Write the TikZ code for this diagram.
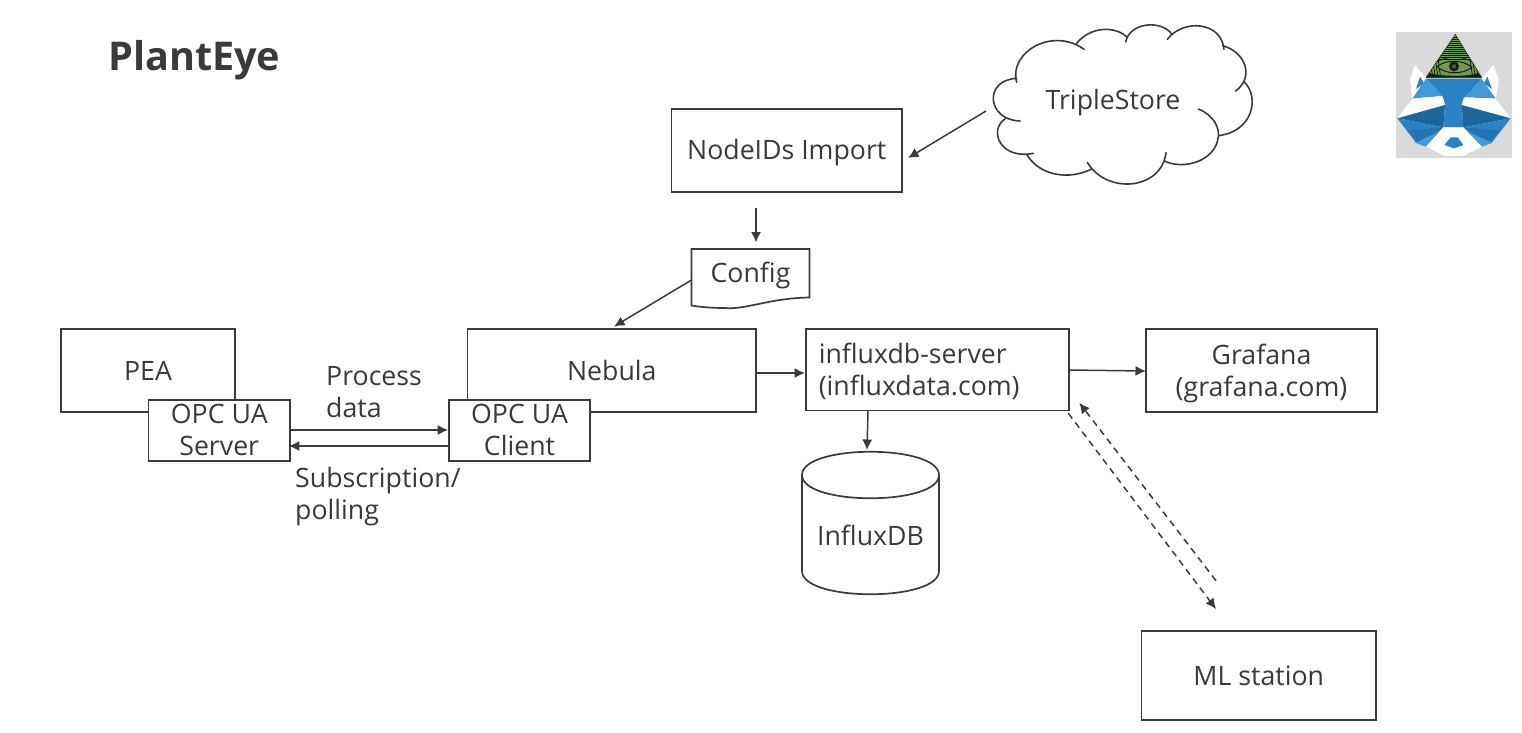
\documentclass[tikz,border=0pt]{standalone}
\usepackage{fontspec}
\setmainfont{Open Sans}
\usetikzlibrary{arrows.meta}
\definecolor{ink}{HTML}{3B3B37}
\definecolor{lbl}{HTML}{3A3A36}
\definecolor{lgray}{HTML}{DADADA}
\definecolor{rblue}{HTML}{2A82C3}
\definecolor{rdark}{HTML}{1C669B}
\definecolor{rmid}{HTML}{2273AE}
\definecolor{rlight}{HTML}{4AA3DE}
\definecolor{pgreen}{HTML}{6E9A58}
\definecolor{pdark}{HTML}{16200F}
\tikzset{
  txt/.style={font=\fontsize{26.7}{32}\selectfont, text=lbl, inner sep=0pt, align=center},
  boxn/.style={draw=ink, line width=1.7pt, fill=white, txt, anchor=center},
  ghost/.style={txt},
  arr/.style={draw=ink, line width=1.5pt, -{Latex[length=10.5pt,width=10pt]}},
  darr/.style={arr, dash pattern=on 6.5pt off 5pt},
  outl/.style={draw=ink, line width=1.7pt, line cap=round},
}
\newcommand{\bx}[7]{% name, x0, y0, x1, y1, text, extra
  \node[boxn,#7,minimum width={(#4-#2)*1pt},minimum height={(#5-#3)*1pt}] (#1) at ({(#2+#4)/2},{(#3+#5)/2}) {#6};}
\begin{document}
\begin{tikzpicture}[x=1pt,y=-1pt]
\useasboundingbox (0,0) rectangle (1522,732);
\fill[white] (0,0) rectangle (1522,732);

\node[font=\fontsize{39.6}{44}\selectfont\bfseries, text=lbl, inner sep=0pt, anchor=base west] (title) at (108,70) {PlantEye};

% boxes
\bx{pea}{61}{329}{235}{412}{PEA}{}
\bx{nebula}{467.5}{329}{756}{412}{Nebula}{}
\bx{server}{148.5}{400}{290}{461}{OPC UA\\Server\rule[-2pt]{0pt}{2pt}}{}
\bx{client}{449}{400}{590}{461}{OPC UA\\Client\rule[-2pt]{0pt}{2pt}}{}
\bx{influx}{806}{329}{1069}{410.5}{\hspace*{12.5pt}\parbox{250pt}{\raggedright\vspace*{3pt} influxdb-server\\(influxdata.com)}}{}
\bx{grafana}{1146}{329}{1377}{412}{\rule{0pt}{26pt}Grafana\\(grafana.com)}{}
\bx{mlst}{1141.5}{631}{1376}{720}{ML station}{}
\bx{nodeids}{671.5}{109}{902}{192}{\rule{0pt}{25pt}NodeIDs Import}{}

% cylinder
\path[outl, fill=white] (802,475) -- (802,571) .. controls (802,602) and (939,602) .. (939,571) -- (939,475)
   .. controls (939,444) and (802,444) .. (802,475) -- cycle;
\path[outl] (802,475) .. controls (802,506) and (939,506) .. (939,475);
\node[ghost] (influxdb) at (870.5,535) {InfluxDB};

% document
\path[outl, fill=white] (691.5,249) -- (809.5,249) -- (809.5,297.5)
  .. controls (770,298) and (745,310) .. (725,308) .. controls (712,308) and (700,307) .. (691.5,305.5) -- cycle;
\node[ghost] (config) at (750.5,275) {Config};

% cloud
\begin{scope}[shift={(970,20)},x=0.3333pt,y=-0.3333pt]
\path[fill=white] (140,175) .. controls (130,90) and (240,30) .. (320,70) .. controls (370,15) and (440,25) .. (470,50)
 .. controls (500,5) and (580,10) .. (605,40) .. controls (650,-5) and (755,15) .. (760,77)
 .. controls (825,95) and (850,150) .. (822,185) .. controls (870,230) and (850,335) .. (745,347)
 .. controls (740,420) and (640,455) .. (583,423) .. controls (560,505) and (410,520) .. (352,445)
 .. controls (300,480) and (215,465) .. (170,403) .. controls (90,410) and (60,330) .. (105,297)
 .. controls (50,270) and (60,185) .. (140,175) -- cycle;
\draw[outl, line width=1.6pt]
 (140,187) .. controls (115,95) and (250,20) .. (342,88)
 (320,70) .. controls (365,15) and (440,20) .. (472,52)
 (467,66) .. controls (480,5) and (575,0) .. (605,42)
 (592,58) .. controls (640,-5) and (755,5) .. (762,88)
 (758,77) .. controls (825,95) and (855,170) .. (797,213)
 (822,185) .. controls (870,230) and (850,335) .. (745,347)
 (685,267) .. controls (730,285) and (755,325) .. (742,365) .. controls (725,425) and (640,450) .. (583,423)
 (588,398) .. controls (575,510) and (410,525) .. (352,427)
 (365,447) .. controls (300,480) and (210,470) .. (170,403)
 (190,400) .. controls (90,420) and (55,330) .. (105,297)
 (150,303) .. controls (50,300) and (40,180) .. (140,175);
\end{scope}
\node[ghost] (triple) at (1113,103) {TripleStore};

% labels
\node[txt, align=left, anchor=north west] (pdata) at (326,366) {Process\\data};
\node[txt, align=left, anchor=north west] (subs) at (295,467.5) {Subscription/\\polling};

% connectors
\coordinate (cloudout) at (986,111);
\coordinate (nodein) at (908,158);
\draw[arr] (cloudout) -- (nodein);
\coordinate (n1) at (756,208);
\coordinate (n2) at (756,242.5);
\draw[arr] (n1) -- (n2);
\coordinate (c1) at (691.5,280);
\coordinate (c2) at (614,326.5);
\draw[arr] (c1) -- (c2);
\coordinate (e1) at (756,373);
\coordinate (e1b) at (805,373);
\draw[arr] (e1) -- (e1b);
\coordinate (e2) at (1069,370);
\coordinate (e2b) at (1146,371);
\draw[arr] (e2) -- (e2b);
\coordinate (i1) at (868,410.5);
\coordinate (i2) at (867,450);
\draw[arr] (i1) -- (i2);
\draw[arr] (server.east |- 0,430) -- (client.west |- 0,430);
\draw[arr] (client.west |- 0,446) -- ([xshift=-2pt]server.east |- 0,446);
\coordinate (d1) at (1068.3,413.3);
\coordinate (d2) at (1216,609);
\coordinate (d3) at (1216,580.7);
\coordinate (d4) at (1079.3,402.7);
\draw[darr] (d1) -- (d2);
\draw[darr] (d3) -- (d4);

% logo
\begin{scope}[shift={(1380,20)},x=0.3333pt,y=-0.3333pt]
\fill[lgray] (48,37) rectangle (395,415);
\fill[white] (105,135) -- (90,178) -- (97,238) -- (190,228) -- (140,176) -- cycle;
\fill[white] (340,135) -- (356,178) -- (347,238) -- (252,232) -- (305,176) -- cycle;
\fill[rblue] (120,170) -- (108,207) -- (132,190) -- cycle;
\fill[rblue] (322,170) -- (336,207) -- (312,190) -- cycle;
\fill[rblue] (138,176) -- (305,176) -- (257,230) -- (245,255) -- (195,255) -- (187,228) -- cycle;
\fill[rlight!70!rblue] (138,176) -- (187,228) -- (97,236) -- cycle;
\fill[rlight!70!rblue] (305,176) -- (255,232) -- (347,236) -- cycle;
\fill[white] (97,236) -- (187,228) -- (195,255) -- (52,295) -- cycle;
\fill[white] (347,236) -- (252,232) -- (245,255) -- (392,295) -- cycle;
\fill[rdark] (52,295) -- (195,255) -- (190,322) -- cycle;
\fill[rdark] (392,295) -- (245,255) -- (250,322) -- cycle;
\fill[rblue] (195,255) -- (245,255) -- (250,322) -- (190,322) -- cycle;
\fill[rblue] (52,295) -- (190,322) -- (138,380) -- (108,368) -- cycle;
\fill[rblue] (392,295) -- (250,322) -- (305,380) -- (335,368) -- cycle;
\fill[rmid] (190,322) -- (115,365) -- (80,332) -- cycle;
\fill[rmid] (250,322) -- (325,365) -- (360,332) -- cycle;
\fill[rlight!80!rblue] (175,338) -- (138,380) -- (105,368) -- cycle;
\fill[rlight!80!rblue] (265,338) -- (305,380) -- (338,368) -- cycle;
\fill[white] (190,322) -- (250,322) -- (305,380) -- (250,408) -- (195,408) -- (138,380) -- cycle;
\fill[rblue] (212,352) -- (233,352) -- (250,375) -- (222,385) -- (193,375) -- cycle;
\fill[pgreen] (226,43) -- (138,172) -- (305,172) -- cycle;
\begin{scope}
\clip (226,43) -- (138,172) -- (305,172) -- cycle;
\foreach \yy in {52,58,64,70,76,82,88,94,100,106,112,118} {\draw[pdark, line width=0.75pt] (130,\yy) -- (320,\yy);}
\foreach \xx in {142,150,158,166,174,270,278,286,294,302} {\draw[pdark, line width=0.75pt] (\xx,118) -- (\xx+8,172);}
\fill[pdark] (150,160) .. controls (190,170) and (260,170) .. (295,160) -- (305,172) -- (138,172) -- cycle;
\fill[pgreen] (172,140) .. controls (195,118) and (250,118) .. (275,142) .. controls (250,164) and (195,164) .. (172,140) -- cycle;
\draw[pdark, line width=1pt] (172,140) .. controls (195,118) and (250,118) .. (275,142) .. controls (250,164) and (195,164) .. (172,140) -- cycle;
\draw[pdark, line width=0.6pt] (160,132) .. controls (195,105) and (255,105) .. (285,132);
\fill[pdark] (222,139) circle (15);
\fill[pgreen!60!pdark] (222,139) circle (6);
\end{scope}
\draw[pdark, line width=0.4pt] (226,43) -- (138,172) -- (305,172) -- cycle;
\end{scope}
\end{tikzpicture}
\end{document}
